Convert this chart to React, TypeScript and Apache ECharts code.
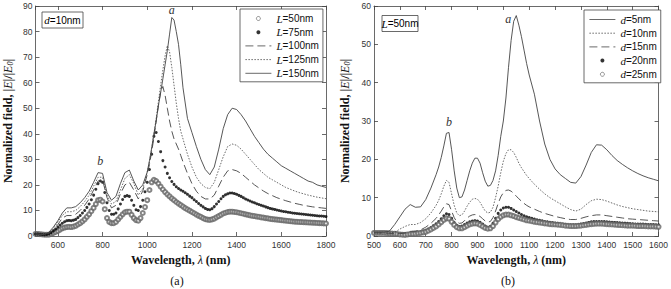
import React, { useEffect, useRef } from "react";
import * as echarts from "echarts";

// ---------- Panel (a): d = 10 nm, varying L ----------
// wavelength grid of the line curves
const WL_A = [
  500, 520, 540, 560, 580, 600, 620, 640, 660, 680, 700, 720, 740, 760, 780, 800, 820, 840, 860, 880, 900, 920, 940, 960, 980, 1000,
  1010, 1020, 1030, 1040, 1050, 1060, 1070, 1080, 1090, 1100, 1110, 1120, 1130, 1140, 1150, 1160,
  1180, 1200, 1220, 1240, 1260, 1280, 1300, 1320, 1340, 1360, 1380, 1400, 1420, 1440, 1460, 1480, 1500, 1520, 1540, 1560, 1580, 1600, 1620, 1640, 1660, 1680, 1700, 1720, 1740, 1760, 1780, 1800,
];
// wavelength grid of the marker curves (10 nm)
const WL_A10 = [
  500, 510, 520, 530, 540, 550, 560, 570, 580, 590,
  600, 610, 620, 630, 640, 650, 660, 670, 680, 690,
  700, 710, 720, 730, 740, 750, 760, 770, 780, 790,
  800, 810, 820, 830, 840, 850, 860, 870, 880, 890,
  900, 910, 920, 930, 940, 950, 960, 970, 980, 990,
  1000, 1010, 1020, 1030, 1040, 1050, 1060, 1070, 1080, 1090,
  1100, 1110, 1120, 1130, 1140, 1150, 1160, 1170, 1180, 1190,
  1200, 1210, 1220, 1230, 1240, 1250, 1260, 1270, 1280, 1290,
  1300, 1310, 1320, 1330, 1340, 1350, 1360, 1370, 1380, 1390,
  1400, 1410, 1420, 1430, 1440, 1450, 1460, 1470, 1480, 1490,
  1500, 1510, 1520, 1530, 1540, 1550, 1560, 1570, 1580, 1590,
  1600, 1610, 1620, 1630, 1640, 1650, 1660, 1670, 1680, 1690,
  1700, 1710, 1720, 1730, 1740, 1750, 1760, 1770, 1780, 1790,
  1800,
];
const L150 = [
  0.8, 0.7, 0.6, 1.5, 3.5, 6, 9, 11, 11, 11.5, 13, 15, 17.5, 21, 24.8, 24.5, 17, 14, 15.5, 20.5, 24.8, 25.8, 21.5, 18, 20, 25,
  29.5, 34.5, 40, 45, 51, 56, 61.5, 67, 72.5, 79, 85.5, 84.5, 80, 75, 67, 58,
  46, 40.5, 35, 30, 26, 24, 27, 34, 42, 47.5, 50, 49.5, 47.5, 45, 42, 39, 36.5, 34, 32, 30.5, 29, 27.5, 26.5, 25.5, 24.5, 23.5, 22.5, 21.5, 21, 20, 19.5, 19,
];
const L125 = [
  0.8, 0.7, 0.6, 1.2, 3, 5.5, 8, 9.5, 9.5, 10, 11.5, 13.5, 16, 19.5, 23, 23, 16, 12.5, 13.5, 18, 22.5, 24, 20.5, 16, 18.5, 25,
  29, 34, 40, 46, 52.5, 59, 65, 70.5, 74.5, 72, 66, 59, 52, 46, 41, 38,
  32, 27, 23, 20.5, 19, 18.5, 21, 26, 31, 35, 36, 35.5, 34, 32, 30, 28, 26, 24.5, 23, 22, 21, 20, 19, 18.3, 17.6, 17, 16.5, 16, 15.6, 15.2, 14.9, 14.6,
];
const L100 = [
  0.8, 0.7, 0.6, 1, 2.5, 4.5, 7, 8, 8, 8.5, 10, 12, 14.5, 18, 21.5, 22, 15, 11, 12, 16.5, 20, 21, 18, 14.5, 17.5, 24,
  28, 33, 38.5, 45, 51, 56.5, 58.5, 55, 50, 45, 41, 38, 36, 34, 31.5, 29,
  24.5, 20.5, 17.5, 15.5, 14.5, 14.5, 16, 19.5, 23, 25.5, 26, 25.5, 24.5, 23, 21.5, 20, 18.8, 17.6, 16.6, 15.8, 15, 14.4, 13.8, 13.3, 12.8, 12.4, 12, 11.7, 11.4, 11.2, 11, 10.8,
];
const L75 = [
  0.8, 0.8, 0.7, 0.6, 0.5, 0.6, 0.8, 1.3, 2, 2.7,
  3.5, 4.3, 5, 5.6, 6, 6.1, 6, 6.2, 6.5, 7.2,
  8, 9, 10, 11.2, 12.5, 14.2, 16, 18.3, 20.5, 21.5,
  21, 17, 13, 10, 8.5, 8.5, 9, 10.6, 12.5, 14.3,
  15.5, 15.8, 15.5, 14, 12, 10.3, 10, 11.5, 14, 17.3,
  21, 26, 32, 39, 40.5, 37, 33, 29.5, 27, 24.5,
  22.8, 21.3, 20.2, 19.3, 18.6, 18, 17.5, 16.9, 16.3, 15.6,
  15, 14.2, 13.5, 12.7, 12, 11.4, 10.8, 10.4, 10.3, 10.7,
  11.5, 12.5, 13.5, 14.6, 15.5, 16.1, 16.5, 16.8, 16.8, 16.6,
  16.3, 15.9, 15.5, 15, 14.5, 14.1, 13.7, 13.3, 13, 12.6,
  12.3, 12, 11.7, 11.4, 11.1, 10.8, 10.6, 10.4, 10.2, 10,
  9.8, 9.6, 9.5, 9.3, 9.2, 9, 8.9, 8.8, 8.7, 8.6,
  8.5, 8.4, 8.3, 8.2, 8.1, 8, 7.9, 7.85, 7.8, 7.7,
  7.6,
];
const L50 = [
  0.8, 0.8, 0.7, 0.6, 0.5, 0.5, 0.5, 0.8, 1.2, 1.6,
  2, 2.5, 3, 3.3, 3.5, 3.6, 3.5, 3.7, 4, 4.5,
  5, 5.7, 6.5, 7.5, 8.5, 9.7, 11, 12.5, 14, 14.2,
  13.5, 10.5, 7, 5.5, 5, 5, 5.5, 6.5, 7.5, 8.5,
  9.3, 9.5, 9.5, 8.3, 7, 6.2, 6, 7, 9, 11.3,
  14, 18, 21, 22, 21.5, 20.5, 19.3, 18.2, 17.2, 16.3,
  15.5, 14.7, 14, 13.3, 12.7, 12.1, 11.5, 10.9, 10.4, 9.9,
  9.4, 8.9, 8.4, 7.9, 7.5, 7, 6.6, 6.4, 6.3, 6.5,
  6.8, 7.3, 7.8, 8.3, 8.8, 9.1, 9.4, 9.5, 9.5, 9.4,
  9.3, 9.1, 8.9, 8.7, 8.5, 8.3, 8.1, 7.9, 7.8, 7.6,
  7.5, 7.3, 7.2, 7, 6.9, 6.7, 6.6, 6.5, 6.4, 6.3,
  6.2, 6.1, 6, 5.9, 5.8, 5.7, 5.6, 5.55, 5.5, 5.45,
  5.4, 5.35, 5.3, 5.25, 5.2, 5.15, 5.1, 5.05, 5, 4.95,
  4.9,
];

// ---------- Panel (b): L = 50 nm, varying d ----------
const WL_B = [
  500, 520, 540, 560, 580, 600, 620, 640, 660, 680, 700, 720, 740,
  750, 760, 770, 780, 790, 800, 810, 820, 830, 840, 850, 860, 870, 880, 890, 900, 910, 920, 930, 940, 950, 960, 970, 980, 990, 1000, 1010, 1020, 1030, 1040, 1050, 1060, 1070, 1080, 1090, 1100,
  1120, 1140, 1160, 1180, 1200, 1220, 1240, 1260, 1280, 1300, 1320, 1340, 1360, 1380, 1400, 1420, 1440, 1460, 1480, 1500, 1520, 1540, 1560, 1580, 1600,
];
const WL_B10 = [
  500, 510, 520, 530, 540, 550, 560, 570, 580, 590,
  600, 610, 620, 630, 640, 650, 660, 670, 680, 690,
  700, 710, 720, 730, 740, 750, 760, 770, 780, 790,
  800, 810, 820, 830, 840, 850, 860, 870, 880, 890,
  900, 910, 920, 930, 940, 950, 960, 970, 980, 990,
  1000, 1010, 1020, 1030, 1040, 1050, 1060, 1070, 1080, 1090,
  1100, 1110, 1120, 1130, 1140, 1150, 1160, 1170, 1180, 1190,
  1200, 1210, 1220, 1230, 1240, 1250, 1260, 1270, 1280, 1290,
  1300, 1310, 1320, 1330, 1340, 1350, 1360, 1370, 1380, 1390,
  1400, 1410, 1420, 1430, 1440, 1450, 1460, 1470, 1480, 1490,
  1500, 1510, 1520, 1530, 1540, 1550, 1560, 1570, 1580, 1590,
  1600,
];
const D5 = [
  1.0, 1.0, 1.0, 1.3, 3.0, 5.0, 7.0, 8.2, 7.5, 7.6, 9.5, 12.5, 16.0,
  18, 20.5, 23.5, 26.8, 27, 22.5, 17, 12.5, 10, 10.2, 12, 14.5, 17, 19, 20.3, 20.3, 19, 16.5, 14.3, 13, 13.2, 14.5, 17, 21, 26, 30, 36, 44, 51, 56, 57.5, 55, 52, 48.5, 45, 42,
  37, 30, 24, 20, 17.5, 16, 15, 14, 13.8, 15.5, 18.5, 21.8, 23.8, 23.7, 22.5, 21, 19.7, 18.7, 17.8, 17, 16.3, 15.7, 15.2, 14.8, 14.4,
];
const D10 = [
  0.8, 0.8, 0.8, 0.8, 1.0, 1.8, 2.5, 3.0, 3.0, 3.5, 4.5, 6.0, 8.0,
  9.3, 11, 13, 14.5, 14, 11, 8, 6, 5.3, 5.5, 6.5, 7.8, 8.8, 9.6, 9.8, 9.6, 8.8, 7.6, 6.5, 6.0, 6.2, 7.5, 10, 13, 16.5, 19.5, 21.5, 22.5, 22.5, 21.8, 20.5, 19, 17.8, 16.8, 15.8, 15,
  13.5, 12.2, 11, 10, 9.2, 8.4, 7.6, 6.9, 6.5, 7.0, 8.2, 9.2, 9.6, 9.5, 9.1, 8.6, 8.1, 7.7, 7.4, 7.1, 6.9, 6.7, 6.5, 6.4, 6.3,
];
const D15 = [
  0.8, 0.8, 0.8, 0.7, 0.6, 0.6, 0.8, 1.2, 1.3, 1.6, 2.3, 3.3, 4.6,
  5.5, 6.5, 7.6, 8.4, 8.2, 6.5, 4.8, 3.7, 3.3, 3.4, 4.0, 4.7, 5.2, 5.5, 5.6, 5.5, 5.1, 4.5, 3.9, 3.6, 3.8, 4.8, 6.5, 8.5, 10.2, 11.3, 11.9, 12.0, 11.7, 11.1, 10.4, 9.7, 9.1, 8.5, 8.0, 7.6,
  7.0, 6.4, 5.9, 5.5, 5.1, 4.8, 4.5, 4.3, 4.3, 4.6, 5.0, 5.3, 5.5, 5.5, 5.3, 5.1, 4.9, 4.7, 4.5, 4.4, 4.3, 4.2, 4.1, 4.0, 3.9,
];
const D20 = [
  1.0, 1.0, 1.0, 1.0, 1.0, 0.95, 0.9, 0.85, 0.8, 0.7,
  0.6, 0.55, 0.5, 0.6, 0.7, 0.8, 0.9, 1.0, 1.1, 1.3,
  1.5, 1.8, 2.2, 2.7, 3.2, 3.8, 4.5, 5.3, 5.8, 5.6,
  4.6, 3.5, 2.8, 2.5, 2.6, 3.0, 3.4, 3.7, 3.9, 4.0,
  3.9, 3.6, 3.1, 2.6, 2.3, 2.5, 3.3, 4.6, 5.9, 6.8,
  7.3, 7.5, 7.5, 7.2, 6.8, 6.4, 6.0, 5.6, 5.3, 5.0,
  4.8, 4.6, 4.4, 4.25, 4.1, 3.95, 3.8, 3.7, 3.6, 3.5,
  3.4, 3.3, 3.2, 3.1, 3.0, 2.95, 2.9, 2.9, 2.9, 3.0,
  3.1, 3.25, 3.4, 3.55, 3.7, 3.75, 3.8, 3.8, 3.8, 3.75,
  3.7, 3.65, 3.6, 3.55, 3.5, 3.45, 3.4, 3.35, 3.3, 3.25,
  3.2, 3.15, 3.1, 3.1, 3.1, 3.05, 3.0, 3.0, 3.0, 2.95,
  2.9,
];
const D25 = [
  0.8, 0.8, 0.8, 0.8, 0.8, 0.75, 0.7, 0.65, 0.6, 0.5,
  0.4, 0.35, 0.3, 0.4, 0.5, 0.55, 0.6, 0.7, 0.8, 0.95,
  1.1, 1.4, 1.7, 2.1, 2.5, 3.0, 3.6, 4.2, 4.6, 4.5,
  3.7, 2.9, 2.3, 2.0, 2.0, 2.3, 2.7, 3.0, 3.2, 3.3,
  3.2, 2.9, 2.5, 2.1, 1.9, 2.0, 2.6, 3.5, 4.4, 5.0,
  5.4, 5.6, 5.6, 5.4, 5.2, 4.9, 4.7, 4.5, 4.3, 4.1,
  4.0, 3.85, 3.7, 3.6, 3.5, 3.4, 3.3, 3.2, 3.1, 3.05,
  3.0, 2.95, 2.9, 2.8, 2.7, 2.65, 2.6, 2.6, 2.6, 2.65,
  2.7, 2.8, 2.9, 3.0, 3.1, 3.15, 3.2, 3.2, 3.2, 3.15,
  3.1, 3.05, 3.0, 2.95, 2.9, 2.85, 2.8, 2.75, 2.7, 2.7,
  2.7, 2.65, 2.6, 2.6, 2.6, 2.55, 2.5, 2.5, 2.5, 2.45,
  2.4,
];

const X_TICKS_A = { min: 500, max: 1800, step: 200 };
const X_TICKS_B = { min: 500, max: 1600, step: 100 };
const Y_TICKS_A = { min: 0, max: 90, step: 10 };
const Y_TICKS_B = { min: 0, max: 60, step: 10 };

const LEGEND_A = ["L=50nm", "L=75nm", "L=100nm", "L=125nm", "L=150nm"];
const LEGEND_B = ["d=5nm", "d=10nm", "d=15nm", "d=20nm", "d=25nm"];
const OPEN_MARKERS = ["L=50nm", "d=25nm"];
const FILLED_MARKERS = ["L=75nm", "d=20nm"];

const SANS = "'Liberation Sans', Arial, sans-serif";
const SERIF = "'Liberation Serif', 'Times New Roman', serif";
const INK = "#333";
const LINE = "#444";

const zip = (xs: number[], ys: number[]) => xs.map((x, i) => [x, ys[i]]);

const nameRich = {
  b: { fontFamily: SERIF, fontWeight: "bold", fontSize: 12, color: "#111", lineHeight: 14 },
  i: { fontFamily: SERIF, fontStyle: "italic", fontSize: 12, color: "#111", lineHeight: 14 },
  s: { fontFamily: SERIF, fontStyle: "italic", fontSize: 8, color: "#111", lineHeight: 9, padding: [5, 0, 0, 0] },
};
const Y_NAME = "{b|Normalized field, |}{i|E}{b||/|}{i|E}{s|0}{b||}";
const X_NAME = "{b|Wavelength, }{i|λ}{b| (nm)}";

const legendRich = {
  i: { fontFamily: SERIF, fontStyle: "italic", fontSize: 11, color: "#111", lineHeight: 10 },
  n: { fontFamily: SANS, fontSize: 10, color: "#111", lineHeight: 10 },
};
const legendFmt = (name: string) => `{i|${name.charAt(0)}}{n|${name.slice(1)}}`;

const legendData = (names: string[]) =>
  names.map((n) => {
    if (OPEN_MARKERS.includes(n))
      return { name: n, icon: "circle", itemStyle: { color: "#fff", borderColor: "#555", borderWidth: 0.8 } };
    if (FILLED_MARKERS.includes(n)) return { name: n, icon: "circle", itemStyle: { color: "#000", borderWidth: 0 } };
    return { name: n, itemStyle: { opacity: 0 } };
  });

const lineStyleAxis = { color: "#444", width: 0.8 };
const plainNum = (v: number) => String(v);

function xAxisCfg(gridIndex: number, t: { min: number; max: number; step: number }, top: boolean, hideMin: boolean) {
  const useInterval = t.min % t.step === 0;
  return {
    type: "value",
    gridIndex,
    position: top ? "top" : "bottom",
    min: t.min,
    max: t.max,
    ...(useInterval ? { interval: t.step } : { minInterval: t.step, maxInterval: t.step, splitNumber: 6 }),
    axisLine: { show: true, onZero: false, lineStyle: lineStyleAxis },
    axisTick: { show: true, inside: true, length: 4, lineStyle: lineStyleAxis },
    splitLine: { show: false },
    axisLabel: top
      ? { show: false }
      : { show: true, showMinLabel: !hideMin, fontSize: 8.5, color: INK, fontFamily: SANS, margin: 4, formatter: plainNum },
    ...(top ? {} : { name: X_NAME, nameLocation: "middle", nameGap: 17, nameTextStyle: { rich: nameRich } }),
  };
}

function yAxisCfg(gridIndex: number, t: { min: number; max: number; step: number }, right: boolean, gap: number) {
  return {
    type: "value",
    gridIndex,
    position: right ? "right" : "left",
    min: t.min,
    max: t.max,
    interval: t.step,
    axisLine: { show: true, onZero: false, lineStyle: lineStyleAxis },
    axisTick: { show: true, inside: true, length: 4, lineStyle: lineStyleAxis },
    splitLine: { show: false },
    axisLabel: right
      ? { show: false }
      : { show: true, fontSize: 8.5, color: INK, fontFamily: SANS, margin: 3, formatter: plainNum },
    ...(right ? {} : { name: Y_NAME, nameLocation: "middle", nameGap: gap, nameTextStyle: { rich: nameRich } }),
  };
}

const markLabel = { show: true, fontFamily: SERIF, fontStyle: "italic", fontSize: 12, color: INK };

function lineSeries(name: string, xs: number[], ys: number[], axis: number, dash: any, width: number, mark?: any) {
  return {
    type: "line",
    name,
    xAxisIndex: axis,
    yAxisIndex: axis,
    data: zip(xs, ys),
    symbol: "none",
    lineStyle: { color: LINE, width, type: dash },
    itemStyle: { color: LINE },
    silent: true,
    ...(mark ? { markPoint: mark } : {}),
  };
}
function markerSeries(name: string, xs: number[], ys: number[], axis: number, filled: boolean) {
  return {
    type: "scatter",
    name,
    xAxisIndex: axis,
    yAxisIndex: axis,
    data: zip(xs, ys),
    symbol: filled ? "circle" : "emptyCircle",
    symbolSize: filled ? 3 : 4,
    itemStyle: filled ? { color: "#000" } : { color: "#666", borderColor: "#666", borderWidth: 0.7 },
    silent: true,
  };
}

const legendBase = {
  orient: "vertical",
  itemWidth: 26,
  itemHeight: 4,
  itemGap: 2.7,
  align: "left",
  padding: [4, 4, 3, 5],
  borderColor: "#444",
  borderWidth: 0.8,
  backgroundColor: "#fff",
  selectedMode: false,
  formatter: legendFmt,
  lineStyle: { width: 0.8 },
  textStyle: { rich: legendRich },
};

const option = {
  animation: false,
  backgroundColor: "#fff",
  grid: [
    { left: 35, top: 6, width: 291, height: 230 },
    { left: 374, top: 6, width: 292, height: 230 },
  ],
  xAxis: [
    xAxisCfg(0, X_TICKS_A, false, true),
    xAxisCfg(0, X_TICKS_A, true, true),
    xAxisCfg(1, X_TICKS_B, false, false),
    xAxisCfg(1, X_TICKS_B, true, false),
  ],
  yAxis: [
    yAxisCfg(0, Y_TICKS_A, false, 21),
    yAxisCfg(0, Y_TICKS_A, true, 21),
    yAxisCfg(1, Y_TICKS_B, false, 22),
    yAxisCfg(1, Y_TICKS_B, true, 22),
  ],
  legend: [
    { ...legendBase, data: legendData(LEGEND_A), left: 240, top: 9 },
    { ...legendBase, data: legendData(LEGEND_B), left: 584, top: 10 },
  ],
  series: [
    markerSeries("L=50nm", WL_A10, L50, 0, false),
    markerSeries("L=75nm", WL_A10, L75, 0, true),
    lineSeries("L=100nm", WL_A, L100, 0, [8, 4], 0.9),
    lineSeries("L=125nm", WL_A, L125, 0, [1.5, 1.5], 0.8),
    lineSeries("L=150nm", WL_A, L150, 0, "solid", 0.9, {
      symbol: "circle",
      symbolSize: 0,
      data: [
        { type: "max", label: { ...markLabel, formatter: "a", position: "top", distance: 2 } },
        { coord: [790, 25.5], label: { ...markLabel, formatter: "b", position: "top", distance: 4 } },
      ],
    }),
    lineSeries("d=5nm", WL_B, D5, 2, "solid", 0.9, {
      symbol: "circle",
      symbolSize: 0,
      data: [
        { type: "max", label: { ...markLabel, formatter: "a", position: "left", distance: 5, offset: [0, 3] } },
        { coord: [790, 27], label: { ...markLabel, formatter: "b", position: "top", distance: 5 } },
      ],
    }),
    lineSeries("d=10nm", WL_B, D10, 2, [1.5, 1.5], 0.8),
    lineSeries("d=15nm", WL_B, D15, 2, [8, 4], 0.9),
    markerSeries("d=20nm", WL_B10, D20, 2, true),
    markerSeries("d=25nm", WL_B10, D25, 2, false),
  ],
  graphic: [
    {
      type: "group",
      children: [
        { type: "rect", shape: { x: 42, y: 12, width: 41, height: 16 }, style: { fill: "#fff", stroke: "#444", lineWidth: 0.8 } },
        {
          type: "text",
          style: { text: "{i|d}{n|=10nm}", rich: legendRich, x: 62.5, y: 20, align: "center", verticalAlign: "middle" },
        },
        { type: "rect", shape: { x: 382, y: 15.5, width: 36, height: 16 }, style: { fill: "#fff", stroke: "#444", lineWidth: 0.8 } },
        {
          type: "text",
          style: { text: "{i|L}{n|=50nm}", rich: legendRich, x: 400, y: 23.5, align: "center", verticalAlign: "middle" },
        },
        {
          type: "text",
          style: { text: "(a)", x: 177, y: 281, align: "center", verticalAlign: "middle", font: `12px ${SERIF}`, fill: "#111" },
        },
        {
          type: "text",
          style: { text: "(b)", x: 508, y: 281, align: "center", verticalAlign: "middle", font: `12px ${SERIF}`, fill: "#111" },
        },
      ],
    },
  ],
};

export default function App() {
  const ref = useRef<HTMLDivElement>(null);
  useEffect(() => {
    if (!ref.current) return;
    const chart = echarts.init(ref.current, null, { renderer: "svg" });
    chart.setOption(option as any);
    return () => chart.dispose();
  }, []);
  return (
    <div
      ref={ref}
      style={{ position: "absolute", left: 0, top: 0, width: 671, height: 289, background: "#fff" }}
    />
  );
}
